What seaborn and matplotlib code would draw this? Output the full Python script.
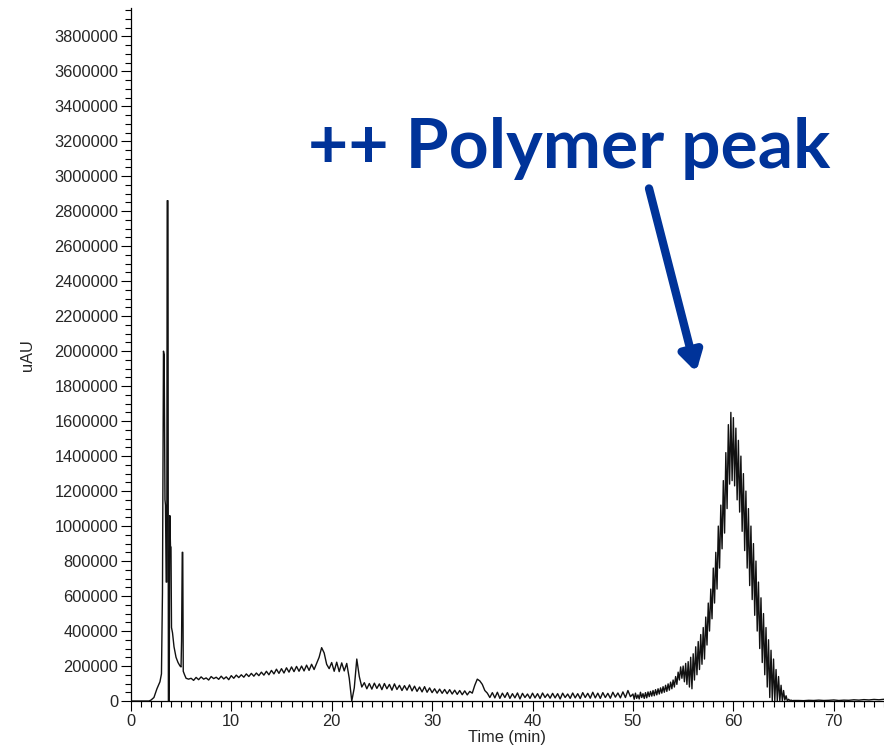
import numpy as np
import pandas as pd
import matplotlib
matplotlib.use("Agg")
import matplotlib.pyplot as plt
from matplotlib.ticker import MultipleLocator
import seaborn as sns

# signal values are in kilo-uAU

# early part (irregular time points, min)
early_time = [0.0, 1.0, 1.8, 2.0, 2.3, 2.6, 2.9, 3.05, 3.15, 3.25, 3.32, 3.40,
              3.45, 3.52, 3.58, 3.62, 3.70, 3.74, 3.82, 3.88, 3.95, 4.0, 4.05,
              4.15, 4.3, 4.5, 4.7, 4.9, 5.0, 5.05, 5.12, 5.17, 5.22, 5.35, 5.5]
early_signal = [0, 0, 0, 5, 20, 70, 110, 155, 620, 2000, 1980, 1150,
                1120, 680, 680, 2860, 2860, 0, 0, 1060, 880, 880, 420,
                390, 310, 250, 220, 200, 195, 340, 850, 850, 170, 150, 130]

# 5.75 .. 49.75 min, every 0.25 min
mid_start, mid_step = 5.75, 0.25
mid_signal = [
    125, 130, 118, 135, 122, 138, 125, 132, 120, 140, 128, 136, 124, 142, 126, 138, 122,
    145, 130, 148, 134, 150, 136, 155, 140, 158, 142, 160, 145, 165, 148, 170, 150,
    175, 155, 182, 158, 185, 160, 190, 165, 195, 168, 198, 170, 200, 172, 205, 175,
    210, 180, 215, 250, 305, 275, 210, 185, 220, 170, 222, 168, 218, 172, 215, 130,
    0, 75, 240, 140, 80, 105, 70, 100, 68, 102, 72, 98, 65, 100, 70, 95,
    62, 98, 66, 90, 60, 88, 62, 92, 58, 85, 55, 80, 52, 82, 50, 75,
    48, 70, 45, 68, 44, 66, 42, 65, 40, 62, 38, 60, 36, 58, 35, 55,
    45, 90, 125, 115, 95, 60, 45, 20, 48, 18, 50, 15, 45, 20, 48, 15,
    42, 18, 46, 12, 44, 20, 40, 15, 45, 18, 42, 14, 46, 20, 40, 16,
    44, 18, 42, 12, 45, 20, 40, 15, 46, 18, 42, 14, 48, 20, 44, 16,
    50, 18, 45, 15, 48, 20, 44, 16, 50, 22, 46, 18, 52, 20, 60, 25,
]

# polymer peak region, 50 .. 66 min, every 0.125 min
peak_start, peak_step = 50.0, 0.125
peak_signal = [
    40, 10, 45, 15, 35, 12, 50, 20, 42, 15, 48, 18, 52, 25, 55, 28,
    60, 30, 65, 35, 70, 40, 75, 45, 82, 50, 90, 55, 98, 62, 108, 70,
    120, 80, 140, 95, 165, 120, 195, 130, 200, 110, 215, 95, 225, 80, 250, 70,
    270, 120, 310, 150, 340, 180, 380, 210, 420, 240, 480, 320, 560, 400, 640, 470,
    760, 560, 850, 640, 1000, 760, 1120, 870, 1260, 960, 1420, 1100, 1580, 1240, 1650, 1260,
    1620, 1230, 1560, 1150, 1490, 1080, 1400, 970, 1300, 860, 1200, 760, 1100, 660, 1000, 580,
    900, 490, 800, 400, 680, 300, 590, 220, 500, 150, 420, 80, 350, 20, 290, 0,
    240, 0, 180, 0, 140, 0, 90, 0, 60, 5, 30, 0, 10, 3, 5, 2,
    3,
]

# tail, 66.5 .. 75 min, every 0.5 min
tail_start, tail_step = 66.5, 0.5
tail_signal = [3, 2, 4, 3, 5, 3, 4, 6, 3, 5, 4, 7, 5, 8, 6, 9, 7, 10]

time = np.concatenate([
    early_time,
    mid_start + mid_step * np.arange(len(mid_signal)),
    peak_start + peak_step * np.arange(len(peak_signal)),
    tail_start + tail_step * np.arange(len(tail_signal)),
])
signal = np.concatenate([early_signal, mid_signal, peak_signal, tail_signal]) * 1000.0
df = pd.DataFrame({"Time (min)": time, "uAU": signal})

sns.set_style("white")
plt.rcParams["font.family"] = ["Liberation Sans", "DejaVu Sans"]

fig = plt.figure(figsize=(8.84, 7.55), dpi=100)
ax = fig.add_axes([0.148, 0.0715, 0.852, 0.9175])

sns.lineplot(data=df, x="Time (min)", y="uAU", color="#111111", linewidth=1.0,
             estimator=None, sort=False, ax=ax)

ax.set_xlim(0, 75)
ax.set_ylim(0, 3.96e6)
ax.xaxis.set_major_locator(MultipleLocator(10))
ax.xaxis.set_minor_locator(MultipleLocator(1))
ax.yaxis.set_major_locator(MultipleLocator(200000))
ax.yaxis.set_minor_locator(MultipleLocator(50000))
ax.ticklabel_format(axis="y", style="plain", useOffset=False)
ax.tick_params(axis="both", which="major", direction="out", length=7, width=0.8,
               labelsize=11.8, color="black", left=True, bottom=True, pad=2)
ax.tick_params(axis="both", which="minor", direction="out", length=4, width=0.8,
               color="black", left=True, bottom=True)
ax.set_xlabel("Time (min)", fontsize=11.8, labelpad=1)
ax.set_ylabel("uAU", fontsize=11.8, labelpad=14)

for side in ["top", "right"]:
    ax.spines[side].set_visible(False)
for side in ["left", "bottom"]:
    ax.spines[side].set_color("black")
    ax.spines[side].set_linewidth(0.9)

blue = "#003399"
ax.text(43.7, 3.16e6, "++ Polymer peak", color=blue, fontsize=50,
        fontweight="bold", family=["Lato", "DejaVu Sans"], ha="center", va="center")
ax.annotate("", xy=(56.3, 1.88e6), xytext=(51.6, 2.93e6),
            arrowprops=dict(arrowstyle="-|>,head_length=1.1,head_width=0.65",
                            color=blue, lw=6, shrinkA=0, shrinkB=0))

fig.savefig("out.png", dpi=100)
